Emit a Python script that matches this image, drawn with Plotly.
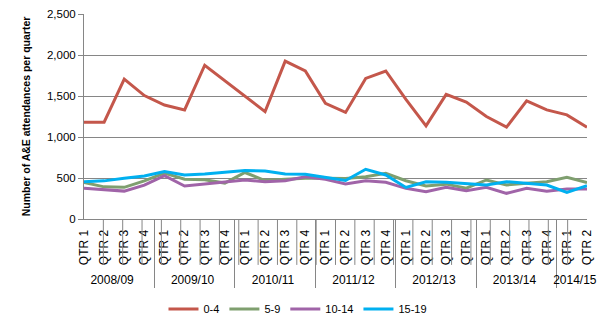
import plotly.graph_objects as go

years = ["2008/09", "2009/10", "2010/11", "2011/12", "2012/13", "2013/14", "2014/15"]
quarters_per_year = [4, 4, 4, 4, 4, 4, 2]
quarter_labels = ["QTR 1", "QTR 2", "QTR 3", "QTR 4"]

series_names = ["0-4", "5-9", "10-14", "15-19"]
age_0_4 = [1180, 1180, 1705, 1505, 1390, 1330, 1875, 1685, 1505, 1310, 1925, 1805,
           1410, 1300, 1715, 1805, 1460, 1135, 1520, 1425, 1250, 1120, 1440, 1330, 1270, 1120]
age_5_9 = [445, 392, 386, 465, 560, 485, 478, 438, 567, 468, 484, 496,
           498, 494, 516, 557, 467, 402, 425, 375, 476, 415, 435, 455, 508, 443]
age_10_14 = [374, 360, 340, 413, 528, 402, 427, 450, 476, 455, 467, 516,
             485, 427, 467, 447, 374, 333, 386, 345, 386, 313, 374, 338, 365, 365]
age_15_19 = [455, 465, 496, 524, 580, 537, 549, 569, 592, 585, 549, 545,
             506, 470, 606, 537, 385, 455, 447, 430, 415, 455, 435, 415, 325, 405]
colors = ["#C4574B", "#7F9F6F", "#A064A8", "#00B0F0"]

outer = []
inner = []
for y, n in zip(years, quarters_per_year):
    for q in quarter_labels[:n]:
        outer.append(y)
        inner.append(q)

FONT = "Liberation Sans, Arial, sans-serif"
GRID = "#868686"

fig = go.Figure()
for name, vals, col in zip(series_names, [age_0_4, age_5_9, age_10_14, age_15_19], colors):
    fig.add_trace(go.Scatter(x=[outer, inner], y=vals, mode="lines", name=name,
                             line=dict(color=col, width=3)))

n = len(inner)
shapes = []
for i in range(1, n):
    shapes.append(dict(type="line", xref="x domain", yref="paper",
                       x0=i / n, x1=i / n, y0=0, y1=-0.224,
                       line=dict(color=GRID, width=1)))

fig.update_layout(
    template="none",
    width=602, height=329,
    margin=dict(l=84, r=15, t=14, b=110),
    paper_bgcolor="white", plot_bgcolor="white",
    font=dict(family=FONT, size=11, color="#000000"),
    showlegend=True,
    legend=dict(orientation="h", xref="container", yref="container",
                x=0.495, xanchor="center", y=1 - 309 / 329, yanchor="middle",
                font=dict(size=11), itemwidth=30, tracegroupgap=0),
    shapes=shapes,
)
fig.update_xaxes(type="multicategory", automargin=False, showline=True, linecolor=GRID,
                 linewidth=1, showgrid=False, tickangle=-90, ticks="",
                 ticklabelstandoff=5,
                 showdividers=True, dividercolor=GRID, dividerwidth=1,
                 tickfont=dict(size=12))
fig.update_yaxes(range=[0, 2500], dtick=500, tickformat=",", showgrid=True, automargin=False,
                 gridcolor=GRID, gridwidth=1, showline=True, linecolor=GRID, linewidth=1,
                 ticks="outside", ticklen=5, tickcolor=GRID, zeroline=False,
                 tickfont=dict(size=11.5),
                 title=dict(text="<b>Number of A&E attendances per quarter</b>",
                            font=dict(size=10.5), standoff=14))

fig.write_html("out.html")
